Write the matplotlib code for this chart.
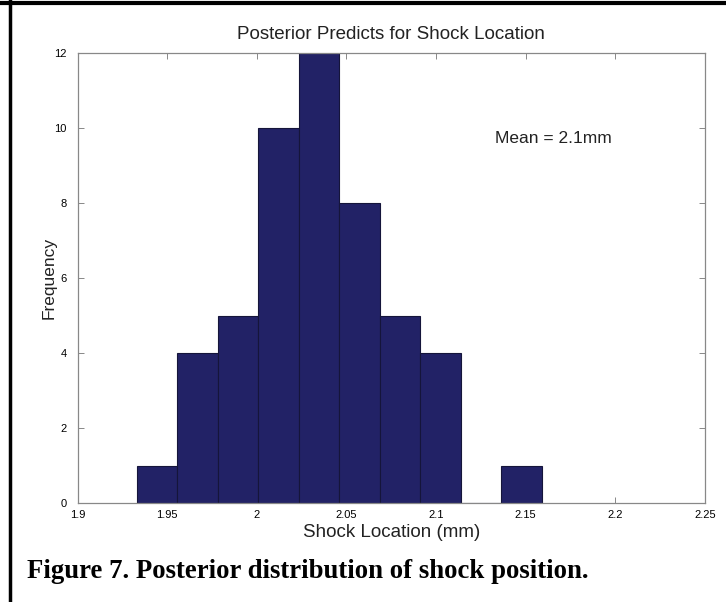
import numpy as np
import matplotlib
matplotlib.use("Agg")
import matplotlib.pyplot as plt
from matplotlib.lines import Line2D

# histogram bins
bin_edges = [1.9330, 1.9556, 1.9782, 2.0008, 2.0234, 2.0460,
             2.0686, 2.0912, 2.1138, 2.1364, 2.1590]
counts = [1, 4, 5, 10, 12, 8, 5, 4, 0, 1]
x_ticks = [1.9, 1.95, 2.0, 2.05, 2.1, 2.15, 2.2, 2.25]
x_tick_labels = ["1.9", "1.95", "2", "2.05", "2.1", "2.15", "2.2", "2.25"]
y_ticks = [0, 2, 4, 6, 8, 10, 12]

plt.rcParams["font.family"] = ["Liberation Sans", "DejaVu Sans"]

fig = plt.figure(figsize=(7.26, 6.02), dpi=100, facecolor="white")
W, H = 726, 602
ax = fig.add_axes([77.5 / W, 1 - 503 / H, (705 - 77.5) / W, (503 - 53) / H])

lefts = np.array(bin_edges[:-1])
widths = np.diff(bin_edges)
ax.bar(lefts, counts, width=widths, align="edge", color="#222266",
       edgecolor="#15153a", linewidth=0.8, zorder=2)

ax.set_xlim(1.9, 2.25)
ax.set_ylim(0, 12)
ax.set_xticks(x_ticks)
ax.set_xticklabels(x_tick_labels)
ax.set_yticks(y_ticks)
ax.tick_params(direction="in", length=4, width=0.7, color="#888888",
               labelsize=8, top=True, right=True)
ax.tick_params(axis="x", pad=5)
ax.tick_params(axis="y", pad=8)
for s in ax.spines.values():
    s.set_color("#888888")
    s.set_linewidth(0.9)

ax.set_title("Posterior Predicts for Shock Location", fontsize=13.5,
             color="#222222", pad=10)
ax.set_xlabel("Shock Location (mm)", fontsize=13.5, color="#222222", labelpad=3)
ax.set_ylabel("Frequency", fontsize=12.5, color="#222222", labelpad=-2)
ax.text(2.133, 9.6, "Mean = 2.1mm", fontsize=12.5, color="#222222")

fig.text(27 / W, 1 - 571 / H, "Figure 7. Posterior distribution of shock position.",
         family=["Liberation Serif", "DejaVu Serif"], fontweight="bold",
         fontsize=19.3, va="center", ha="left")

# page frame (top and left edges)
fig.add_artist(Line2D([0, 1], [1 - 2.5 / H, 1 - 2.5 / H], color="black", lw=3,
                      transform=fig.transFigure))
fig.add_artist(Line2D([10 / W, 10 / W], [0, 1], color="black", lw=2.5,
                      transform=fig.transFigure))

fig.savefig("out.png", dpi=100, facecolor="white")
